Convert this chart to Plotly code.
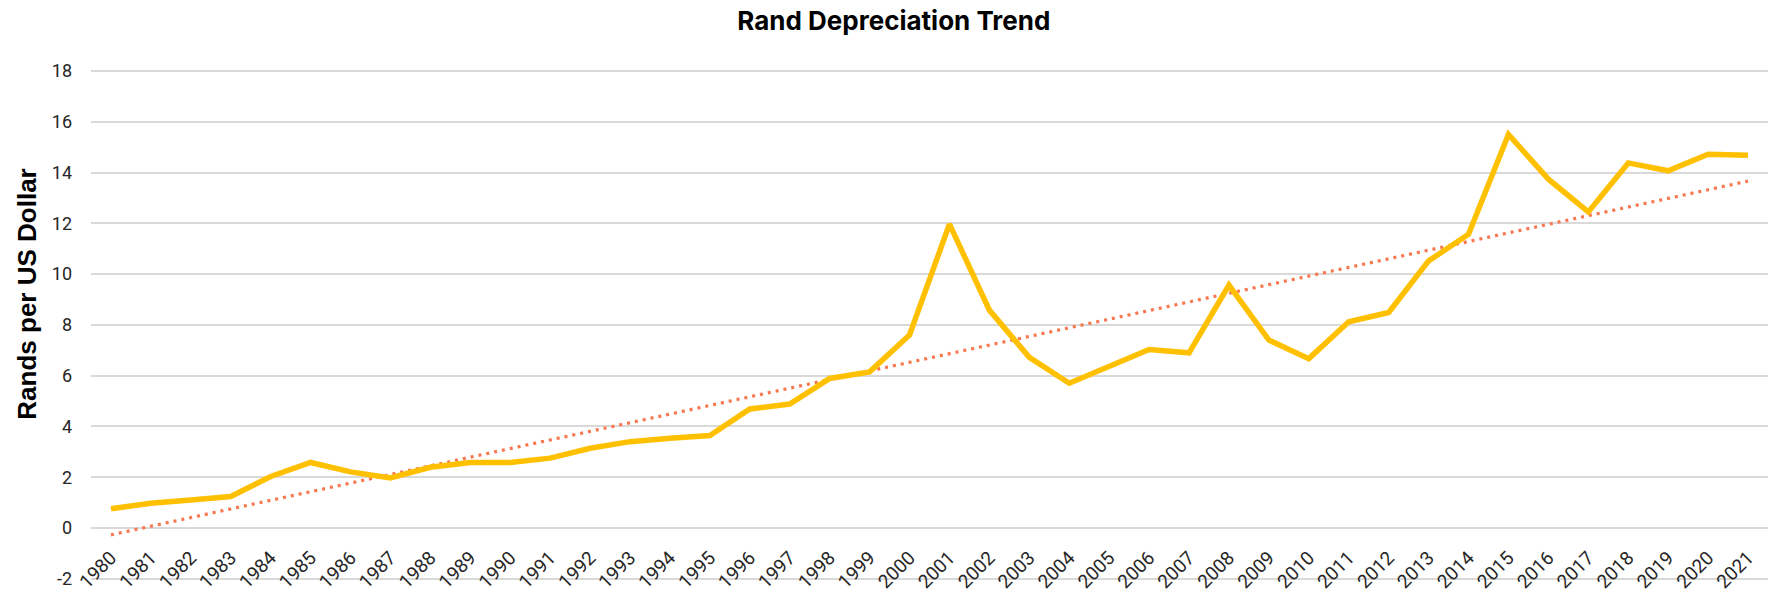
import numpy as np
import plotly.graph_objects as go

years = [str(y) for y in range(1980, 2022)]
rands_per_usd = [
    0.76, 0.97, 1.10, 1.24, 2.03, 2.58, 2.21, 1.97, 2.39, 2.58,
    2.58, 2.75, 3.14, 3.40, 3.53, 3.64, 4.69, 4.88, 5.89, 6.15,
    7.60, 11.97, 8.58, 6.72, 5.70, 6.35, 7.03, 6.90, 9.57, 7.40,
    6.67, 8.12, 8.49, 10.52, 11.57, 15.50, 13.74, 12.45, 14.38, 14.07,
    14.72, 14.68,
]
y_ticks = [-2, 0, 2, 4, 6, 8, 10, 12, 14, 16, 18]
y_tick_text = ["-2", "0", "2", "4", "6", "8", "10", "12", "14", "16", "18"]

idx = np.arange(len(years))
slope, intercept = np.polyfit(idx, rands_per_usd, 1)
trend = (slope * idx + intercept).tolist()

fig = go.Figure()
fig.add_trace(go.Scatter(
    x=years, y=trend, mode="lines",
    line=dict(color="#F9764F", width=3.2, dash="3px,5px"),
    hoverinfo="skip", showlegend=False,
))
fig.add_trace(go.Scatter(
    x=years, y=rands_per_usd, mode="lines",
    line=dict(color="#FFC000", width=5.5, shape="linear"),
    showlegend=False,
))

fig.update_layout(
    width=1777, height=593,
    margin=dict(l=91, r=9, t=70, b=13),
    paper_bgcolor="white", plot_bgcolor="white",
    title=dict(text="<b>Rand Depreciation Trend</b>", x=0.503, xref="container",
               xanchor="center", y=0.965, yanchor="middle",
               font=dict(family="Inter", size=26, color="#000000")),
    font=dict(family="Roboto", color="#262626"),
    annotations=[dict(
        text="<b>Rands per US Dollar</b>", textangle=-90,
        xref="paper", yref="paper", x=-0.038, y=0.56,
        xanchor="center", yanchor="middle", showarrow=False,
        font=dict(family="Liberation Sans", size=26, color="#000000"),
    )],
)
fig.update_xaxes(
    type="category", range=[-0.5, 41.5],
    anchor="free", position=0.1,
    tickangle=-45, tickfont=dict(family="Roboto", size=19, color="#262626"),
    showgrid=False, showline=False, zeroline=False, ticks="",
    ticklabelstandoff=13,
    automargin=False,
)
fig.update_yaxes(
    range=[-2.05, 18.04], domain=[0, 1],
    tickvals=y_ticks, ticktext=y_tick_text,
    tickfont=dict(family="Roboto", size=18, color="#262626"),
    showgrid=True, gridcolor="#D9D9D9", gridwidth=1.5,
    zeroline=False, showline=False, ticks="",
    ticklabelstandoff=18,
    automargin=False,
)

fig.write_html("out.html")
